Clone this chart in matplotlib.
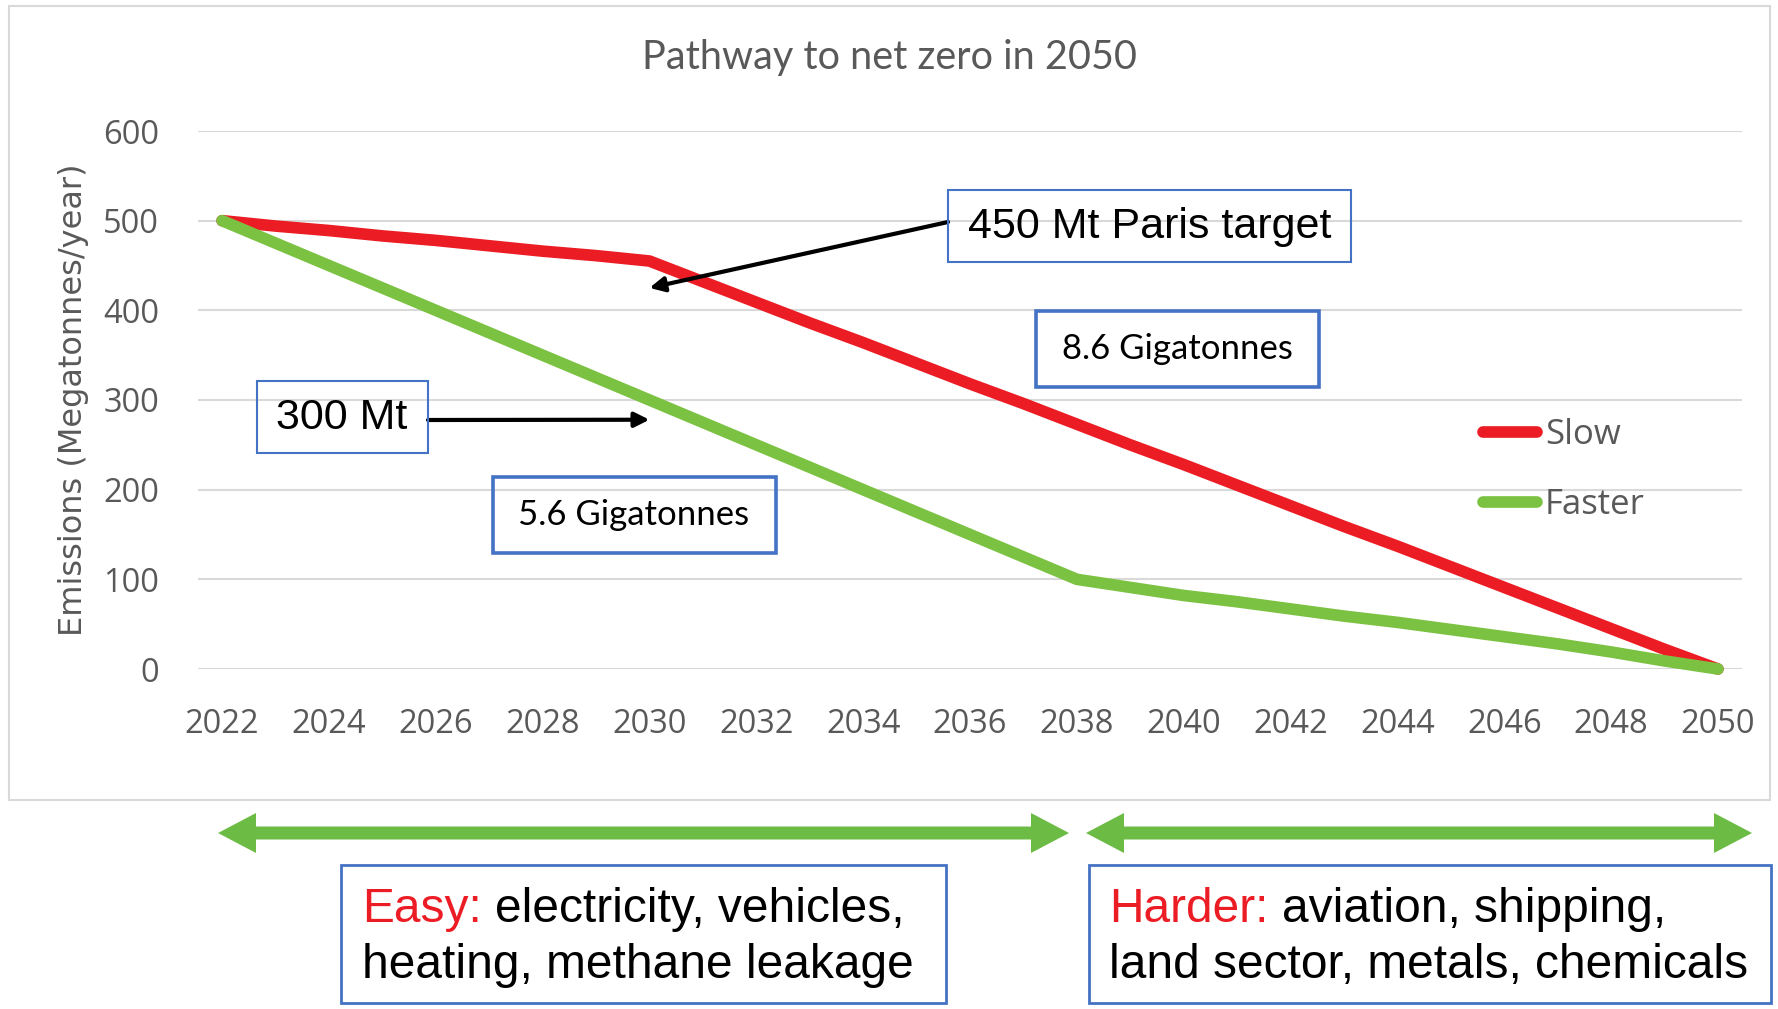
import matplotlib
matplotlib.use("Agg")
import matplotlib.pyplot as plt
from matplotlib.patches import Rectangle, Polygon

W, H = 1778, 1009  # output size in pixels (dpi 100)

# ── data ─────────────────────────────────────────────────────────────────────
YEARS = [2022, 2023, 2024, 2025, 2026, 2027, 2028, 2029, 2030, 2031,
         2032, 2033, 2034, 2035, 2036, 2037, 2038, 2039, 2040, 2041,
         2042, 2043, 2044, 2045, 2046, 2047, 2048, 2049, 2050]
SLOW = [500, 494, 489, 483, 478, 472, 466, 461, 455, 432,
        409, 386, 364, 341, 318, 296, 273, 250, 228, 205,
        182, 159, 137, 114, 91, 68, 45, 22, 0]
FASTER = [500, 475, 450, 425, 400, 375, 350, 325, 300, 275,
          250, 225, 200, 175, 150, 125, 100, 91, 82, 75,
          67, 59, 52, 44, 36, 28, 19, 9, 0]
SERIES_LABELS = ["Slow", "Faster"]
X_TICKS = [2022, 2024, 2026, 2028, 2030, 2032, 2034, 2036, 2038,
           2040, 2042, 2044, 2046, 2048, 2050]
Y_TICKS = [0, 100, 200, 300, 400, 500, 600]

TITLE = "Pathway to net zero in 2050"
YLABEL = "Emissions (Megatonnes/year)"
PARIS_NOTE = "450 Mt Paris target"
PARIS_POINT = (2030, 425)
FAST_NOTE = "300 Mt"
FAST_POINT = (2030, 278)
SLOW_TOTAL = "8.6 Gigatonnes"
FAST_TOTAL = "5.6 Gigatonnes"
EASY = ("Easy:", ["electricity, vehicles,", "heating, methane leakage"])
HARDER = ("Harder:", ["aviation, shipping,", "land sector, metals, chemicals"])

RED = "#EC1C24"
GREEN = "#7CC242"
ARROW_GREEN = "#6CBB45"
BOX_BLUE = "#4472C4"
GRID = "#D9D9D9"
GRAY = "#595959"

plt.rcParams.update({
    "font.family": ["Open Sans", "DejaVu Sans"],
    "figure.dpi": 100,
    "savefig.dpi": 100,
})


def fx(x):
    return x / W


def fy(y):
    return 1 - y / H


def draw_box(fig, x0, y0, x1, y1, lw):
    fig.add_artist(Rectangle((fx(x0), fy(y1)), (x1 - x0) / W, (y1 - y0) / H,
                             transform=fig.transFigure, fill=False,
                             edgecolor=BOX_BLUE, linewidth=lw))


def double_arrow(fig, x0, x1, yc, shaft, head_h, head_len):
    s, h = shaft / 2, head_h / 2
    pts = [(x0, yc), (x0 + head_len, yc - h), (x0 + head_len, yc - s),
           (x1 - head_len, yc - s), (x1 - head_len, yc - h), (x1, yc),
           (x1 - head_len, yc + h), (x1 - head_len, yc + s),
           (x0 + head_len, yc + s), (x0 + head_len, yc + h)]
    fig.add_artist(Polygon([(fx(x), fy(y)) for x, y in pts], closed=True,
                           transform=fig.transFigure, facecolor=ARROW_GREEN,
                           edgecolor="none"))


fig = plt.figure(figsize=(W / 100, H / 100), dpi=100)
fig.patch.set_facecolor("white")

# outer chart frame
fig.add_artist(Rectangle((fx(9), fy(800)), (1770 - 9) / W, (800 - 6) / H,
                         transform=fig.transFigure, fill=False,
                         edgecolor=GRID, linewidth=1.5))

ax = fig.add_axes([fx(198), fy(669), (1742 - 198) / W, (669 - 131) / H])
ax.plot(YEARS, SLOW, color=RED, linewidth=8.4, solid_capstyle="round",
        solid_joinstyle="round", label=SERIES_LABELS[0], clip_on=False, zorder=3)
ax.plot(YEARS, FASTER, color=GREEN, linewidth=8.4, solid_capstyle="round",
        solid_joinstyle="round", label=SERIES_LABELS[1], clip_on=False, zorder=4)
ax.set_xlim(2021.55, 2050.45)
ax.set_ylim(0, 600)
ax.set_xticks(X_TICKS)
ax.set_xticklabels([str(y) for y in X_TICKS])
ax.set_yticks(Y_TICKS)
ax.grid(axis="y", color=GRID, linewidth=1.5)
ax.set_axisbelow(True)
for sp in ax.spines.values():
    sp.set_visible(False)
ax.tick_params(axis="both", length=0, labelsize=23.5, labelcolor=GRAY)
ax.tick_params(axis="y", pad=28)
ax.tick_params(axis="x", pad=28)

leg = ax.legend(loc="center left", bbox_to_anchor=(fx(1466), fy(470)),
                bbox_transform=fig.transFigure, frameon=False, borderpad=0,
                handlelength=1.55, handletextpad=0.22, labelspacing=1.05,
                fontsize=25, labelcolor=GRAY)
for line in leg.get_lines():
    line.set_solid_capstyle("round")

fig.text(fx(890), fy(57), TITLE, ha="center", va="center", fontsize=28.5,
         color=GRAY, family=["Lato", "DejaVu Sans"])
fig.text(fx(74), fy(400), YLABEL, rotation=90, ha="center", va="center",
         fontsize=23, color=GRAY, family="DejaVu Sans")

# callouts with arrows
draw_box(fig, 948, 190, 1351, 262, 1.5)
fig.text(fx(1150), fy(227), PARIS_NOTE, ha="center", va="center",
         fontsize=31, family="Liberation Sans", color="black")
ax.annotate("", xy=PARIS_POINT, xycoords="data",
            xytext=(fx(948), fy(222)), textcoords="figure fraction",
            arrowprops=dict(arrowstyle="-|>", color="black", lw=3,
                            shrinkA=0, shrinkB=0, mutation_scale=22))

draw_box(fig, 257, 381, 428, 453, 1.5)
fig.text(fx(342), fy(418), FAST_NOTE, ha="center", va="center",
         fontsize=31, family="Liberation Sans", color="black")
ax.annotate("", xy=FAST_POINT, xycoords="data",
            xytext=(fx(428), fy(420)), textcoords="figure fraction",
            arrowprops=dict(arrowstyle="-|>", color="black", lw=3,
                            shrinkA=0, shrinkB=0, mutation_scale=22))

draw_box(fig, 1036, 311, 1319, 387, 2.6)
fig.text(fx(1177), fy(349), SLOW_TOTAL, ha="center", va="center",
         fontsize=25, family=["Lato", "DejaVu Sans"], color="black")
draw_box(fig, 493, 477, 776, 553, 2.6)
fig.text(fx(634), fy(515), FAST_TOTAL, ha="center", va="center",
         fontsize=25, family=["Lato", "DejaVu Sans"], color="black")

# bottom: green range arrows and explanation boxes
double_arrow(fig, 218, 1069, 833, 13, 40, 38)
double_arrow(fig, 1086, 1752, 833, 13, 40, 38)

renderer = fig.canvas.get_renderer()
BIG = 34.5


def mixed_lines(x, baselines, head, lines):
    t = fig.text(fx(x), fy(baselines[0]), head, color=RED, fontsize=BIG,
                 family="Liberation Sans", va="baseline", ha="left")
    bb = t.get_window_extent(renderer)
    space = BIG * 100 / 72 * 0.278
    fig.text((bb.x1 + space) / W, fy(baselines[0]), lines[0], color="black",
             fontsize=BIG, family="Liberation Sans", va="baseline", ha="left")
    fig.text(fx(x), fy(baselines[1]), lines[1], color="black", fontsize=BIG,
             family="Liberation Sans", va="baseline", ha="left")


draw_box(fig, 341, 865, 946, 1003, 2.0)
mixed_lines(362, (922, 978), EASY[0], EASY[1])
draw_box(fig, 1089, 865, 1771, 1003, 2.0)
mixed_lines(1109, (922, 978), HARDER[0], HARDER[1])

fig.savefig("out.png", dpi=100, facecolor="white")
